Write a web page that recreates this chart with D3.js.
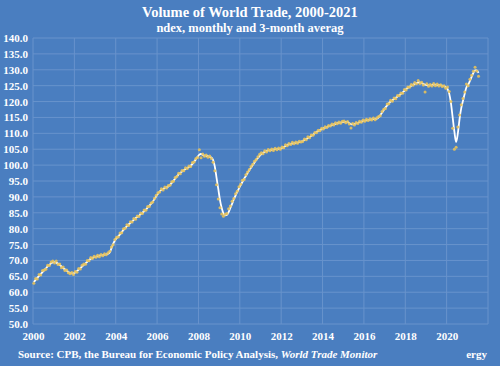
<!DOCTYPE html>
<html><head><meta charset="utf-8">
<script src="https://cdn.jsdelivr.net/npm/d3@7"></script>
<style>html,body{margin:0;padding:0;background:#4a7ec0;}svg{display:block;}</style>
</head><body>
<svg id="c" width="500" height="366"></svg>
<script>
const title = "Volume of World Trade, 2000-2021";
const subtitle = "ndex, monthly and 3-month averag";
const sourceText = "Source: CPB, the Bureau for Economic Policy Analysis, ";
const sourceItalic = "World Trade Monitor";
const sourceRight = "ergy";
const startYear = 2000;
const yTicks = [50,55,60,65,70,75,80,85,90,95,100,105,110,115,120,125,130,135,140];
const xTicks = [2000,2002,2004,2006,2008,2010,2012,2014,2016,2018,2020];
const xGrid = [2000,2002,2004,2006,2008,2010,2012,2014,2016,2018,2020,2022];

// 3-month average (line), monthly from Jan 2000
const avg3 = [
 63.2,63.9,64.5,65.1,65.7,66.3,66.9,67.5,68.1,68.6,69.1,69.4,
 69.5,69.3,69.0,68.6,68.1,67.6,67.2,66.8,66.4,66.1,65.9,65.9,
 66.2,66.6,67.1,67.6,68.1,68.6,69.1,69.6,70.1,70.5,70.8,71.0,
 71.2,71.3,71.5,71.6,71.7,71.8,71.9,72.1,72.5,73.8,75.2,76.3,
 77.0,77.6,78.2,78.9,79.6,80.2,80.8,81.3,81.8,82.3,82.8,83.3,
 83.7,84.1,84.6,85.0,85.5,86.0,86.6,87.2,87.8,88.5,89.3,90.2,
 91.0,91.7,92.2,92.5,92.8,93.0,93.3,93.8,94.4,95.1,95.8,96.5,
 97.1,97.6,98.0,98.4,98.8,99.1,99.4,99.8,100.4,101.1,101.8,102.6,
 103.3,103.5,103.2,103.0,102.9,102.8,102.6,102.4,101.6,99.5,96.0,92.5,
 89.0,86.5,84.8,84.2,84.3,85.2,86.5,87.8,89.2,90.4,91.6,92.7,
 93.7,94.7,95.7,96.6,97.5,98.4,99.2,100.0,100.8,101.6,102.3,102.9,
 103.5,103.9,104.2,104.4,104.6,104.7,104.8,104.9,105.0,105.0,105.1,105.2,
 105.4,105.7,106.0,106.3,106.5,106.7,106.8,106.9,107.0,107.1,107.2,107.4,
 107.6,107.9,108.2,108.5,108.8,109.2,109.6,110.0,110.4,110.7,111.0,111.3,
 111.6,111.8,112.0,112.2,112.4,112.6,112.8,113.0,113.2,113.3,113.4,113.5,
 113.6,113.6,113.5,113.2,112.9,112.8,112.9,113.1,113.3,113.5,113.7,113.9,
 114.0,114.1,114.2,114.3,114.4,114.5,114.5,114.6,115.0,115.7,116.5,117.3,
 118.1,118.8,119.5,120.0,120.4,120.8,121.2,121.6,122.0,122.4,122.9,123.4,
 123.9,124.3,124.7,125.0,125.3,125.6,125.8,126.0,126.0,125.8,125.5,125.3,
 125.2,125.1,125.1,125.2,125.3,125.3,125.2,125.2,125.1,125.0,124.8,124.5,
 124.0,122.5,119.5,115.0,110.5,107.3,110.0,114.5,118.0,120.3,122.5,124.5,
 125.3,126.5,127.8,129.0,129.8,129.8,129.0
];
// monthly index (dots)
const monthly = [
 62.8,64.3,64.2,65.6,65.4,66.8,67.0,67.2,68.5,68.4,69.5,69.8,
 69.2,69.8,68.7,68.9,67.7,67.9,66.8,67.0,66.1,65.8,66.2,65.6,
 66.5,66.3,67.5,67.3,68.5,68.9,68.8,70.0,69.9,70.9,70.6,71.3,
 71.0,71.6,71.2,71.9,71.5,72.1,71.8,72.4,72.9,74.2,74.9,76.6,
 77.3,77.4,78.6,78.7,80.0,80.1,81.2,81.0,82.2,82.1,83.2,83.0,
 84.0,83.8,84.9,84.8,85.9,85.8,87.0,87.0,88.1,88.4,89.6,90.5,
 91.3,91.5,92.6,92.2,93.1,92.8,93.6,93.7,94.8,94.9,96.1,96.4,
 97.4,97.3,98.3,98.2,99.2,98.9,99.7,99.6,100.8,101.0,102.1,102.4,
 104.8,102.3,103.5,102.8,103.2,102.5,102.9,102.1,100.9,98.2,93.8,89.3,
 86.6,84.6,83.9,84.5,84.8,86.3,87.1,88.6,89.5,91.0,91.8,93.2,
 94.0,95.2,95.5,97.0,97.8,98.6,99.6,100.3,101.2,101.8,102.6,103.4,
 103.9,103.6,104.5,104.1,104.9,104.5,105.1,104.6,105.3,104.8,105.4,105.0,
 105.7,105.5,106.4,106.1,106.8,106.5,107.2,106.7,107.3,106.9,107.5,107.3,
 107.4,108.2,108.0,108.9,108.6,109.5,109.4,110.3,110.2,111.0,110.8,111.6,
 111.4,112.1,111.8,112.5,112.3,112.9,112.6,113.3,113.0,113.6,113.2,113.8,
 113.9,113.3,113.7,112.9,111.7,113.1,112.6,113.4,113.1,113.8,113.5,114.2,
 113.8,114.4,114.0,114.6,114.2,114.8,114.3,114.9,115.3,115.5,116.9,117.6,
 117.8,119.2,119.3,120.4,120.1,121.1,120.9,121.9,121.8,122.7,122.6,123.8,
 123.6,124.6,124.5,125.4,125.1,126.0,125.6,126.6,125.7,126.1,125.2,123.0,
 125.6,124.8,125.4,124.9,125.7,125.0,125.5,124.9,125.3,124.7,125.0,124.2,
 124.6,123.2,120.0,111.6,105.0,105.6,112.0,115.8,119.0,121.0,123.0,125.5,
 125.0,127.0,128.3,129.5,130.8,129.6,128.0
];

const svg = d3.select("#c");
const W = 500, H = 366;
const m = {left:33, right:12, top:38, bottom:42};
const x = d3.scaleLinear().domain([2000, 2022]).range([m.left, W - m.right]);
const y = d3.scaleLinear().domain([50, 140]).range([H - m.bottom, m.top]);
const t = i => startYear + (i + 0.5) / 12;

svg.append("rect").attr("width", W).attr("height", H).attr("fill", "#4a7ec0");

const serif = "'Liberation Serif','DejaVu Serif',serif";
const grid = "#6893cc";
svg.append("g").selectAll("line").data(yTicks).join("line")
  .attr("x1", x(2000)).attr("x2", x(2022))
  .attr("y1", d => y(d)).attr("y2", d => y(d))
  .attr("stroke", grid).attr("stroke-width", 1);
svg.append("g").selectAll("line").data(xGrid).join("line")
  .attr("x1", d => x(d)).attr("x2", d => x(d))
  .attr("y1", y(50)).attr("y2", y(140))
  .attr("stroke", grid).attr("stroke-width", 1);

const yAxis = d3.axisLeft(y).tickValues(yTicks).tickFormat(d3.format(".1f")).tickSize(0).tickPadding(5);
const ya = svg.append("g").attr("transform", `translate(${m.left},0)`).call(yAxis);
ya.select(".domain").remove();
ya.selectAll("text").attr("fill", "#fff").style("font", `bold 11px ${serif}`);

const xAxis = d3.axisBottom(x).tickValues(xTicks).tickFormat(d3.format("d")).tickSize(0).tickPadding(8);
const xa = svg.append("g").attr("transform", `translate(0,${y(50)})`).call(xAxis);
xa.select(".domain").remove();
xa.selectAll("text").attr("fill", "#fff").style("font", `bold 11px ${serif}`);

// line
const line = d3.line().x((d,i) => x(t(i))).y(d => y(d)).curve(d3.curveMonotoneX);
svg.append("path").datum(avg3).attr("d", line)
  .attr("fill", "none").attr("stroke", "#fff").attr("stroke-width", 1.8);

// dots
svg.append("g").selectAll("circle").data(monthly).join("circle")
  .attr("cx", (d,i) => x(t(i))).attr("cy", d => y(d)).attr("r", 1.5)
  .attr("fill", "#e6c25c").attr("fill-opacity", 0.9);

// titles
svg.append("text").attr("x", 250).attr("y", 17).attr("text-anchor", "middle")
  .attr("fill", "#fff").style("font", `bold 14.5px ${serif}`).text(title);
svg.append("text").attr("x", 250).attr("y", 32).attr("text-anchor", "middle")
  .attr("fill", "#fff").style("font", `bold 12.5px ${serif}`).text(subtitle);

const src = svg.append("text").attr("x", 18).attr("y", 358).attr("fill", "#fff")
  .style("font", `bold 11px ${serif}`);
src.append("tspan").text(sourceText);
src.append("tspan").style("font-style", "italic").text(sourceItalic);
svg.append("text").attr("x", 487).attr("y", 358).attr("text-anchor", "end").attr("fill", "#fff")
  .style("font", `bold 11px ${serif}`).text(sourceRight);
</script>
</body></html>
